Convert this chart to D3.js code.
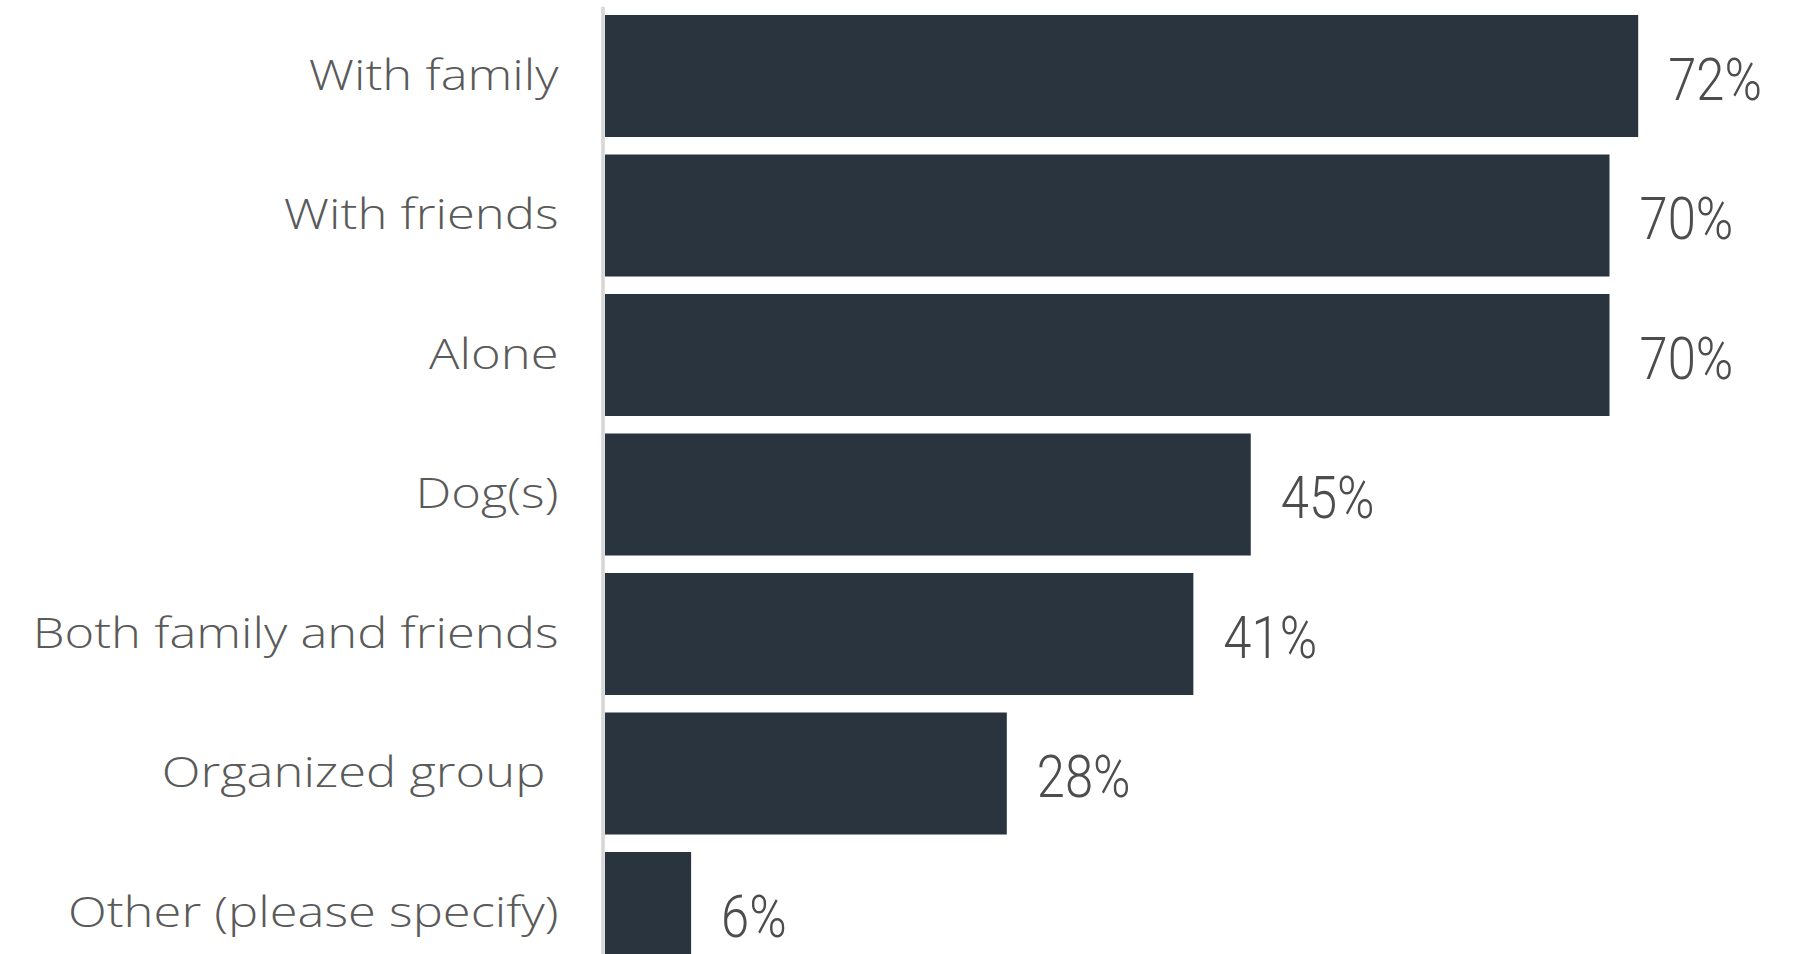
<!DOCTYPE html>
<html>
<head>
<meta charset="utf-8">
<script src="https://cdn.jsdelivr.net/npm/d3@7"></script>
<style>
  html, body { margin: 0; padding: 0; background: #ffffff; overflow: hidden; }
  svg { display: block; }
</style>
</head>
<body>
<svg id="chart" width="1818" height="954"></svg>
<script>
// Who people go with — share of respondents per answer
const categories = [
  "With family",
  "With friends",
  "Alone",
  "Dog(s)",
  "Both family and friends",
  "Organized group ",
  "Other (please specify)"
];
const values = [72, 70, 70, 45, 41, 28, 6];
const valueLabels = ["72%", "70%", "70%", "45%", "41%", "28%", "6%"];

const W = 1818, H = 954;
const svg = d3.select("#chart");

const axisX = 602.5;
const labelGap = 44;
const x = d3.scaleLinear().domain([0, 100]).range([605, 2040]);
const y = d3.scaleBand()
  .domain(categories)
  .range([6.25, 982.75])
  .paddingInner(0.1254)
  .paddingOuter(0.0627);

// bars
svg.append("g").selectAll("rect")
  .data(values)
  .join("rect")
  .attr("x", x(0))
  .attr("y", (d, i) => y(categories[i]))
  .attr("width", d => x(d) - x(0))
  .attr("height", y.bandwidth())
  .attr("fill", "#29343f");

// category axis
const gAxis = svg.append("g")
  .attr("transform", `translate(${axisX},0)`)
  .call(d3.axisLeft(y).tickSize(0).tickPadding(labelGap));
gAxis.select(".domain")
  .attr("stroke", "#d6d6d6")
  .attr("stroke-width", 3.5);
const tickText = gAxis.selectAll(".tick text")
  .style("white-space", "pre")
  .attr("fill", "#5a5a5a")
  .attr("font-family", "'Open Sans', sans-serif")
  .attr("font-weight", 300)
  .attr("font-size", 43);

// stretch the letterforms horizontally so the longest label spans its column
{
  const longest = tickText.filter(d => d === "Both family and friends").node();
  const natural = longest.getComputedTextLength();
  const sx = 526 / natural;
  tickText
    .attr("x", -labelGap / sx)
    .attr("transform", `scale(${sx},1)`);
}

// value labels, in a condensed face
const condense = 0.86;
svg.append("g").selectAll("text")
  .data(values)
  .join("text")
  .attr("transform", (d, i) =>
    `translate(${x(d) + 30},${y(categories[i]) + y.bandwidth() / 2 + 3}) scale(${condense},1)`)
  .attr("dy", "0.355em")
  .attr("fill", "#4d4d4d")
  .attr("font-family", "Roboto, sans-serif")
  .attr("font-weight", 300)
  .attr("font-size", 59)
  .text((d, i) => valueLabels[i]);
</script>
</body>
</html>
